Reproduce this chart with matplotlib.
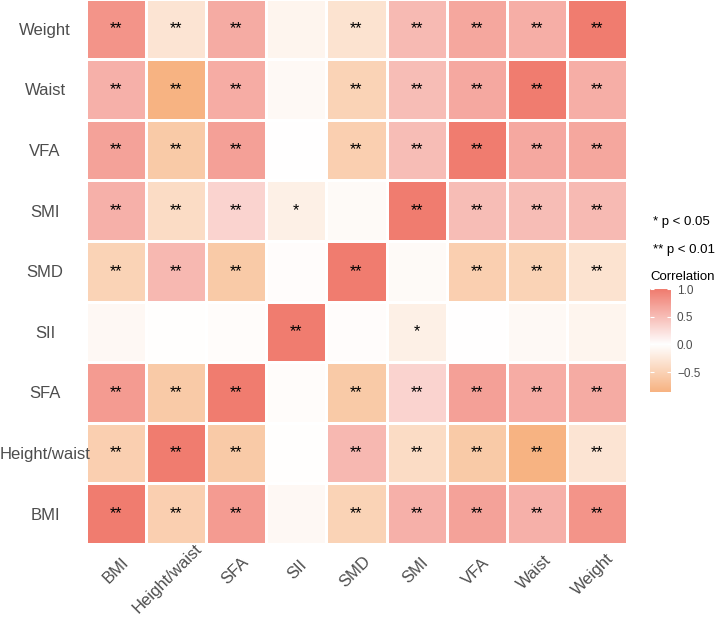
import matplotlib.pyplot as plt
import numpy as np
from matplotlib.colors import LinearSegmentedColormap, TwoSlopeNorm
from matplotlib.textpath import TextPath
from matplotlib.font_manager import FontProperties

plt.rcParams['font.family'] = ['Liberation Sans', 'DejaVu Sans']

# variables, same order on both axes (x left->right, y bottom->top)
labels = ['BMI', 'Height/waist', 'SFA', 'SII', 'SMD', 'SMI', 'VFA', 'Waist', 'Weight']

# correlation rows
r_bmi    = [1.00, -0.54, 0.76, -0.08, -0.50, 0.60, 0.71, 0.60, 0.82]
r_hw     = [-0.54, 1.00, -0.60, -0.02, 0.54, -0.40, -0.60, -0.86, -0.30]
r_sfa    = [0.76, -0.60, 1.00, -0.04, -0.60, 0.33, 0.72, 0.63, 0.64]
r_sii    = [-0.08, -0.02, -0.04, 1.00, -0.03, -0.17, 0.00, -0.07, -0.12]
r_smd    = [-0.50, 0.54, -0.60, -0.03, 1.00, -0.06, -0.54, -0.50, -0.32]
r_smi    = [0.60, -0.40, 0.33, -0.17, -0.06, 1.00, 0.50, 0.50, 0.53]
r_vfa    = [0.71, -0.60, 0.72, 0.00, -0.54, 0.50, 1.00, 0.66, 0.67]
r_waist  = [0.60, -0.86, 0.63, -0.07, -0.50, 0.50, 0.66, 1.00, 0.61]
r_weight = [0.82, -0.30, 0.64, -0.12, -0.32, 0.53, 0.67, 0.61, 1.00]

# significance marks
s_bmi    = ['**', '**', '**', '', '**', '**', '**', '**', '**']
s_hw     = ['**', '**', '**', '', '**', '**', '**', '**', '**']
s_sfa    = ['**', '**', '**', '', '**', '**', '**', '**', '**']
s_sii    = ['', '', '', '**', '', '*', '', '', '']
s_smd    = ['**', '**', '**', '', '**', '', '**', '**', '**']
s_smi    = ['**', '**', '**', '*', '', '**', '**', '**', '**']
s_vfa    = ['**', '**', '**', '', '**', '**', '**', '**', '**']
s_waist  = ['**', '**', '**', '', '**', '**', '**', '**', '**']
s_weight = ['**', '**', '**', '', '**', '**', '**', '**', '**']

corr = np.array([r_bmi, r_hw, r_sfa, r_sii, r_smd, r_smi, r_vfa, r_waist, r_weight])
sig = [s_bmi, s_hw, s_sfa, s_sii, s_smd, s_smi, s_vfa, s_waist, s_weight]

cb_min, cb_max = -0.86, 1.0
cmap = LinearSegmentedColormap.from_list('corr', ['#F7B382', '#FFFFFF', '#F07C6F'])
norm = TwoSlopeNorm(vmin=cb_min, vcenter=0, vmax=cb_max)

W, H = 715, 617
grey = '#4D4D4D'
fig = plt.figure(figsize=(W / 100, H / 100), dpi=100)
ax = fig.add_axes([86 / W, 1 - 544 / H, 541 / W, 545.5 / H])

n = len(labels)
ax.pcolormesh(corr, cmap=cmap, norm=norm, edgecolors='white', linewidth=2)
for i in range(n):
    for j in range(n):
        ax.text(j + 0.5, i + 0.5, sig[i][j], ha='center', va='center', fontsize=11.5, color='black')

ax.set_xlim(0, n)
ax.set_ylim(0, n)
for s in ax.spines.values():
    s.set_visible(False)

# y labels, centred
ax.set_yticks(np.arange(n) + 0.5)
ax.set_yticklabels(labels, fontsize=12, color=grey)
ax.tick_params(axis='y', length=0, pad=29.5)
for t in ax.get_yticklabels():
    t.set_ha('center')

# x labels at 45 degrees
ax.set_xticks([])
fp = FontProperties(family='Liberation Sans')
for j, lab in enumerate(labels):
    L = TextPath((0, 0), lab, size=12, prop=fp).get_extents().width
    dx = 3 * 0.72 - 0.19 * L * 0.707
    dy = -23 * 0.72 - 0.19 * L * 0.707
    ax.annotate(lab, xy=(j + 0.5, 0), xycoords='data', xytext=(dx, dy),
                textcoords='offset points', rotation=45, rotation_mode='anchor',
                ha='center', va='center', fontsize=12, color=grey)

# legend texts
fig.text(653 / W, 1 - 222 / H, '* p < 0.05', fontsize=9.5, ha='left', va='center')
fig.text(653 / W, 1 - 250 / H, '** p < 0.01', fontsize=9.5, ha='left', va='center')
fig.text(650 / W, 1 - 277 / H, 'Correlation', fontsize=9.5, ha='left', va='center')

# colour bar
cax = fig.add_axes([650 / W, 1 - 392 / H, 21 / W, 103 / H])
grad = np.linspace(cb_min, cb_max, 256)[:, None]
cax.imshow(grad, cmap=cmap, norm=norm, aspect='auto', origin='lower',
           extent=[0, 1, cb_min, cb_max])
cb_ticks = [-0.5, 0.0, 0.5, 1.0]
cax.hlines(cb_ticks, 0, 0.2, color='white', linewidth=0.8)
cax.hlines(cb_ticks, 0.8, 1, color='white', linewidth=0.8)
cax.set_xlim(0, 1)
cax.set_ylim(cb_min, cb_max)
cax.set_xticks([])
cax.yaxis.tick_right()
cax.set_yticks(cb_ticks)
cax.set_yticklabels(['\u22120.5', '0.0', '0.5', '1.0'], fontsize=8.5, color=grey)
cax.tick_params(axis='y', length=0, pad=4.3)
for s in cax.spines.values():
    s.set_visible(False)

fig.savefig('out.png', dpi=100)
